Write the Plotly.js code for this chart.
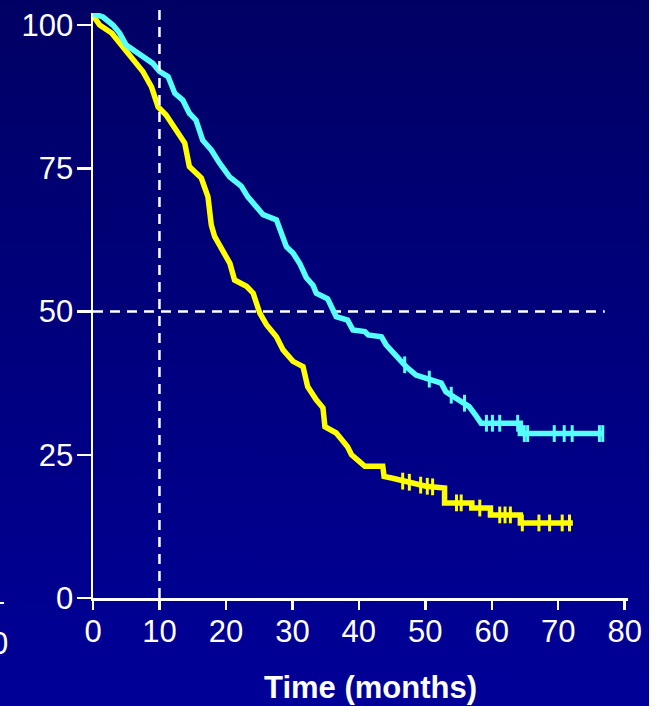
<!DOCTYPE html>
<html>
<head>
<meta charset="utf-8">
<script src="https://cdn.plot.ly/plotly-3.0.1.min.js"></script>
<style>
  html, body { margin: 0; padding: 0; }
  body { width: 658px; height: 706px; overflow: hidden; position: relative;
         background: linear-gradient(to bottom, #000064 0%, #00007c 45%, #000098 100%); }
  #chart { position: absolute; left: 0; top: 0; width: 658px; height: 706px; }
  #strip { position: absolute; left: 649px; top: 0; width: 9px; height: 706px; background: #ffffff; z-index: 5; }
</style>
</head>
<body>
<div id="chart"></div>
<div id="strip"></div>
<script>
// Yellow curve (time in months, survival %)
const yellowTime = [0, 1.0, 2.8, 4.5, 6.0, 7.5, 8.8, 9.8, 11.0, 12.5, 13.8, 14.5, 16.3, 17.3, 17.8, 18.3, 19.4, 20.6, 21.3, 23.1, 24.1, 25.1, 26.1, 27.6, 28.6, 30.1, 31.6, 32.3, 33.6, 34.6, 34.9, 36.6, 38.3, 38.9, 40.1, 40.9, 43.6, 43.8, 45.1, 47.1, 50.1, 52.9, 52.9, 57.0, 57.0, 59.8, 59.8, 64.3, 64.3, 72.2];
const yellowSurv = [101.7, 100.0, 98.6, 96.2, 94.2, 91.9, 89.2, 85.7, 84.3, 81.7, 79.4, 75.3, 73.3, 70.0, 65.1, 63.1, 60.8, 58.4, 55.5, 54.4, 53.2, 49.7, 47.7, 45.6, 43.3, 41.3, 40.4, 36.9, 34.6, 33.2, 29.9, 28.8, 26.4, 25.0, 23.8, 23.0, 23.0, 21.2, 20.9, 20.3, 19.5, 19.2, 16.6, 16.6, 15.7, 15.7, 14.5, 14.5, 13.1, 13.1];
const yellowCensTime = [46.6, 47.6, 49.3, 50.3, 51.1, 54.7, 55.4, 58.2, 61.2, 62.0, 62.8, 64.6, 67.1, 68.7, 70.6, 71.7];
const yellowCensSurv = [20.4, 20.2, 19.7, 19.5, 19.4, 16.6, 16.6, 15.7, 14.5, 14.5, 14.5, 13.1, 13.1, 13.1, 13.1, 13.1];

// Cyan curve
const cyanTime = [0, 1.5, 3.0, 4.0, 5.0, 6.8, 8.3, 9.0, 10.0, 11.3, 12.3, 13.5, 14.5, 15.5, 16.5, 17.8, 19.05, 20.55, 22.3, 23.3, 24.5, 25.6, 27.6, 28.2, 29.1, 30.1, 31.1, 32.1, 33.1, 33.6, 35.3, 36.1, 36.6, 38.3, 39.1, 40.9, 41.4, 43.4, 44.1, 45.9, 47.1, 48.6, 50.1, 52.4, 53.1, 54.6, 56.6, 57.7, 58.4, 64.3, 64.3, 76.7];
const cyanSurv = [102.0, 101.4, 100.0, 98.6, 96.5, 95.1, 93.9, 93.3, 91.9, 91.0, 88.1, 86.9, 84.6, 83.4, 79.9, 78.2, 75.9, 73.5, 71.9, 70.0, 68.4, 66.9, 66.0, 64.2, 61.3, 60.2, 58.4, 55.9, 54.6, 53.2, 52.2, 50.3, 49.1, 48.5, 46.8, 46.5, 45.9, 45.6, 44.2, 41.9, 40.4, 38.9, 38.3, 37.5, 36.0, 34.9, 33.4, 31.7, 30.5, 30.5, 28.7, 28.7];
const cyanCensTime = [46.9, 50.6, 53.9, 55.9, 59.2, 60.1, 61.2, 63.9, 64.9, 65.4, 69.4, 70.9, 72.1, 76.2, 76.7];
const cyanCensSurv = [40.7, 38.2, 35.4, 34.0, 30.5, 30.5, 30.5, 30.5, 28.7, 28.7, 28.7, 28.7, 28.7, 28.7, 28.7];

// Axes / reference lines
const xTicks = [0, 10, 20, 30, 40, 50, 60, 70, 80];
const yTicks = [0, 25, 50, 75, 100];
const xRange = [0, 80.5];
const yRange = [0, 102.1];
const refTime = 10;
const refSurv = 50;
const refSurvEnd = 77;
const xTitle = 'Time (months)';

const YELLOW = '#ffff00';
const CYAN = '#55ffff';
const FONT = 'Liberation Sans, Arial, Helvetica, sans-serif';

const traces = [
  { x: yellowTime, y: yellowSurv, mode: 'lines', line: { color: YELLOW, width: 5.5 }, hoverinfo: 'skip' },
  { x: yellowCensTime, y: yellowCensSurv, mode: 'markers', marker: { symbol: 'line-ns', size: 12, color: YELLOW, line: { color: YELLOW, width: 3 } }, hoverinfo: 'skip' },
  { x: cyanTime, y: cyanSurv, mode: 'lines', line: { color: CYAN, width: 5.5 }, hoverinfo: 'skip' },
  { x: cyanCensTime, y: cyanCensSurv, mode: 'markers', marker: { symbol: 'line-ns', size: 12, color: CYAN, line: { color: CYAN, width: 3 } }, hoverinfo: 'skip' }
];

const W = 658, H = 706, ML = 93, MR = 30, MT = 13, MB = 108;
const PW = W - ML - MR, PH = H - MT - MB;
const px2paperX = p => (p - ML) / PW;
const px2paperY = p => (H - MB - p) / PH;

const layout = {
  width: W, height: H,
  margin: { l: ML, r: MR, t: MT, b: MB, pad: 0 },
  paper_bgcolor: 'rgba(0,0,0,0)',
  plot_bgcolor: 'rgba(0,0,0,0)',
  showlegend: false,
  font: { family: FONT, color: '#ffffff', size: 31 },
  xaxis: {
    range: xRange, tickvals: xTicks, ticktext: xTicks.map(String),
    showgrid: false, zeroline: false, showline: true, linecolor: '#ffffff', linewidth: 2.5,
    ticks: 'outside', ticklen: 9, tickwidth: 2.5, tickcolor: '#ffffff', ticklabelstandoff: -5,
    tickfont: { family: FONT, size: 31, color: '#ffffff' }, fixedrange: true
  },
  yaxis: {
    range: yRange, tickvals: yTicks, ticktext: yTicks.map(String),
    showgrid: false, zeroline: false, showline: true, linecolor: '#ffffff', linewidth: 2.5,
    ticks: 'outside', ticklen: 14, tickwidth: 2.5, tickcolor: '#ffffff', ticklabelstandoff: -3,
    tickfont: { family: FONT, size: 31, color: '#ffffff' }, fixedrange: true
  },
  shapes: [
    { type: 'line', xref: 'x', yref: 'paper', x0: refTime, x1: refTime, y0: 0, y1: px2paperY(7),
      line: { color: '#ffffff', width: 2.5, dash: '10px,7px' }, layer: 'above' },
    { type: 'line', xref: 'x', yref: 'y', x0: 0, x1: refSurvEnd, y0: refSurv, y1: refSurv,
      line: { color: '#ffffff', width: 2.5, dash: '10px,7px' }, layer: 'below' },
    { type: 'line', xref: 'paper', yref: 'paper', x0: px2paperX(0), x1: px2paperX(4), y0: px2paperY(603), y1: px2paperY(603),
      line: { color: '#ffffff', width: 2 } }
  ],
  annotations: [
    { text: '<b>' + xTitle + '</b>', xref: 'paper', yref: 'paper', x: px2paperX(370.5), y: px2paperY(688),
      xanchor: 'center', yanchor: 'middle', showarrow: false, font: { family: FONT, size: 31, color: '#ffffff' } },
    { text: '0', xref: 'paper', yref: 'paper', x: px2paperX(10), y: px2paperY(643.5),
      xanchor: 'right', yanchor: 'middle', showarrow: false, font: { family: FONT, size: 31, color: '#ffffff' } }
  ]
};

Plotly.newPlot('chart', traces, layout, { staticPlot: true, displayModeBar: false });
</script>
</body>
</html>
